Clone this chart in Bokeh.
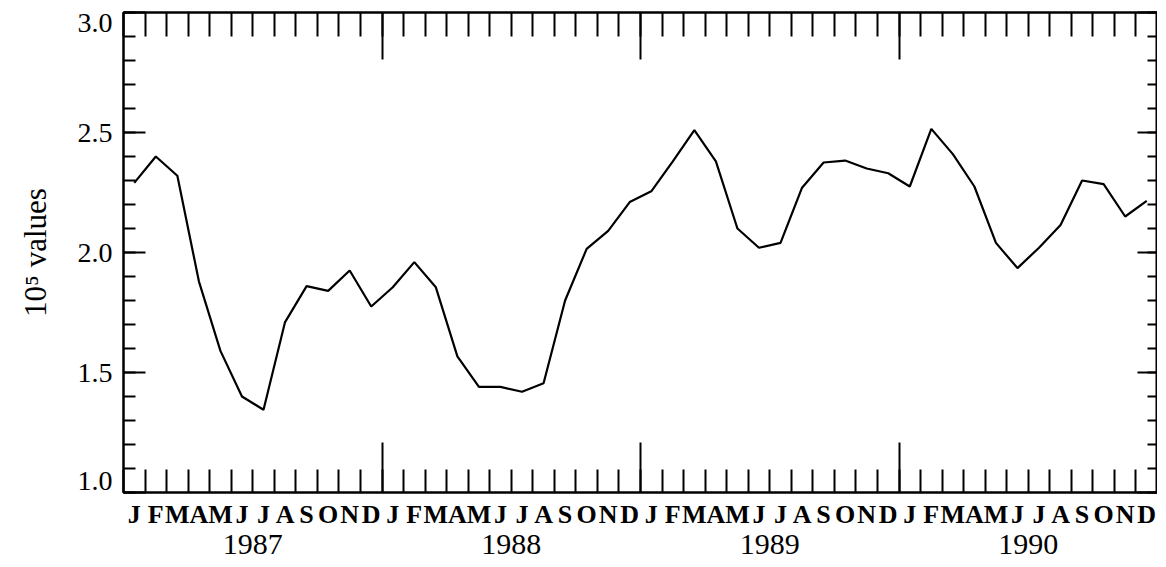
from bokeh.plotting import figure
from bokeh.models import Range1d, FixedTicker, LinearAxis
from bokeh.embed import file_html
from bokeh.resources import INLINE

# ---------------- data ----------------
months = ["J", "F", "M", "A", "M", "J", "J", "A", "S", "O", "N", "D"]
years = ["1987", "1988", "1989", "1990"]
values_1987 = [2.29, 2.40, 2.32, 1.88, 1.59, 1.40, 1.345, 1.71, 1.86, 1.84, 1.925, 1.775]
values_1988 = [1.855, 1.96, 1.855, 1.567, 1.44, 1.44, 1.42, 1.455, 1.80, 2.015, 2.09, 2.21]
values_1989 = [2.255, 2.38, 2.51, 2.38, 2.10, 2.02, 2.04, 2.27, 2.375, 2.383, 2.35, 2.33]
values_1990 = [2.275, 2.515, 2.41, 2.275, 2.04, 1.935, 2.02, 2.115, 2.30, 2.285, 2.15, 2.215]
y_tick_values = [1.0, 1.5, 2.0, 2.5, 3.0]
y_tick_labels = ["1.0", "1.5", "2.0", "2.5", "3.0"]
y_axis_title = "10\u2075 values"

# ---------------- derived ----------------
series = values_1987 + values_1988 + values_1989 + values_1990
n_months = len(series)
x_mid = [i + 0.5 for i in range(n_months)]          # month centres
month_bounds = list(range(n_months + 1))              # month boundaries
year_bounds = [12 * i for i in range(1, len(years))]  # year boundaries
year_mid = [12 * i + 6 for i in range(len(years))]
y_minor = [round(1.0 + 0.1 * i, 1) for i in range(21)]

SERIF = "Liberation Serif"

p = figure(frame_width=1034, frame_height=480,
           x_range=Range1d(0, n_months), y_range=Range1d(1.0, 3.0),
           x_axis_location=None, y_axis_location=None,
           output_backend="svg", toolbar_location=None,
           min_border_left=123, min_border_top=12, min_border_right=0, min_border_bottom=75)
p.grid.visible = False
p.outline_line_color = "black"
p.outline_line_width = 2
p.background_fill_color = "white"
p.border_fill_color = "white"


def tick_axis(ticks, minor, major_in, minor_in):
    ax = LinearAxis(ticker=FixedTicker(ticks=ticks, minor_ticks=minor))
    ax.major_tick_in = major_in
    ax.major_tick_out = 0
    ax.minor_tick_in = minor_in
    ax.minor_tick_out = 0
    ax.major_tick_line_width = 2
    ax.minor_tick_line_width = 2
    ax.major_tick_line_color = "black"
    ax.minor_tick_line_color = "black"
    ax.axis_line_color = "black"
    ax.axis_line_width = 2
    ax.major_label_text_font_size = "0px"
    ax.major_label_text_color = None
    ax.major_label_standoff = 0
    return ax


def label_axis(ticks, labels, size, standoff, bold=False):
    ax = LinearAxis(ticker=FixedTicker(ticks=ticks, minor_ticks=[]))
    ax.major_label_overrides = {t: l for t, l in zip(ticks, labels)}
    ax.major_tick_line_color = None
    ax.minor_tick_line_color = None
    ax.axis_line_color = None
    ax.major_tick_in = 0
    ax.major_tick_out = 0
    ax.minor_tick_in = 0
    ax.minor_tick_out = 0
    ax.major_label_standoff = standoff
    ax.major_label_text_font = SERIF
    ax.major_label_text_font_size = size
    ax.major_label_text_color = "black"
    if bold:
        ax.major_label_text_font_style = "bold"
    return ax


# bottom: ticks, month letters, years
p.add_layout(tick_axis(year_bounds, month_bounds, 50, 23), "below")
p.add_layout(label_axis(x_mid, months * len(years), "26px", 7, bold=True), "below")
p.add_layout(label_axis(year_mid, years, "30px", 3), "below")

# top: ticks only
p.add_layout(tick_axis(year_bounds, month_bounds, 47, 24), "above")

# left: ticks, then labels (end labels nudged inside the frame as in the original)
p.add_layout(tick_axis(y_tick_values, y_minor, 22, 12), "left")
label_pos = [y_tick_values[0] + 0.05] + y_tick_values[1:-1] + [y_tick_values[-1] - 0.042]
yl = label_axis(label_pos, y_tick_labels, "28px", 11)
yl.axis_label = y_axis_title
yl.axis_label_text_font = SERIF
yl.axis_label_text_font_size = "31px"
yl.axis_label_text_font_style = "normal"
yl.axis_label_text_color = "black"
yl.axis_label_standoff = 22
p.add_layout(yl, "left")

# right: ticks only
p.add_layout(tick_axis(y_tick_values, y_minor, 20, 10), "right")

p.line(x_mid, series, line_color="black", line_width=2.2)

open("out.html", "w").write(file_html(p, INLINE))
